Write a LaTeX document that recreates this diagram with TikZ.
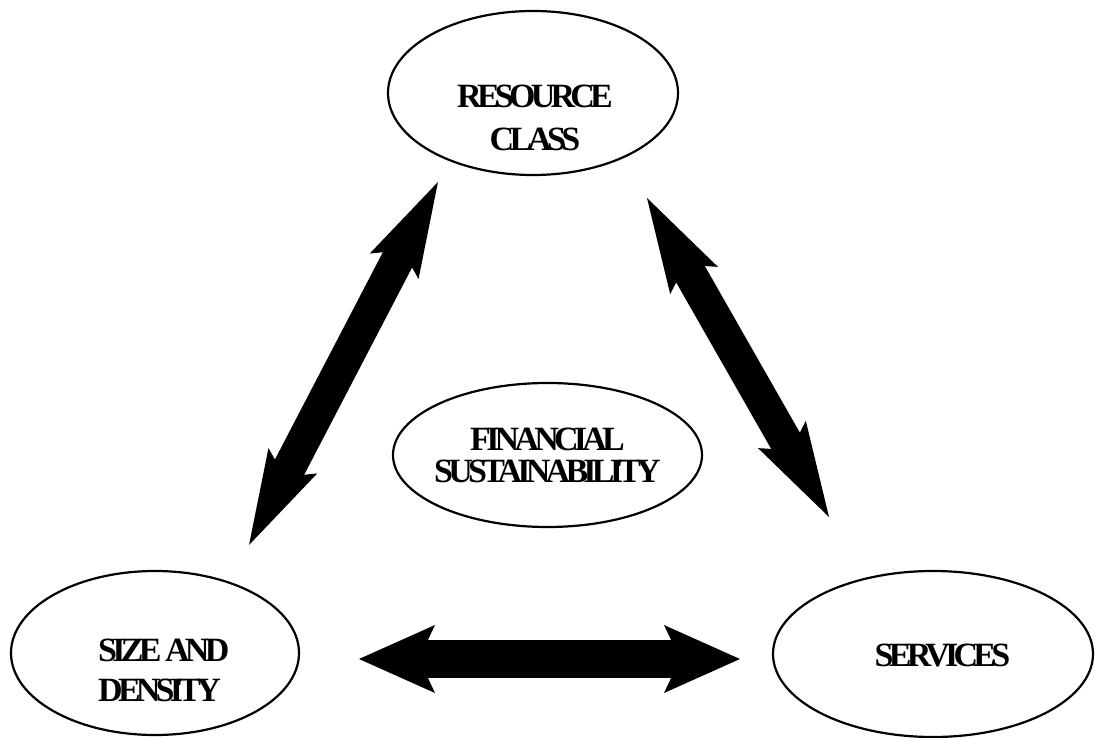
\documentclass[tikz,border=0pt]{standalone}
\usepackage{fontspec}
\newfontfamily\capsfont{Liberation Serif}[LetterSpace=-14]
\usetikzlibrary{arrows.meta,shapes.geometric}

\tikzset{
	blob/.style={draw, ellipse, line width=2.2pt, inner sep=0pt},
	txt/.style={font=\capsfont\bfseries\fontsize{34}{#1}\selectfont, align=center, inner sep=0pt},
	slant/.style={line width=33pt,
		{Stealth[length=95pt,width=55pt,inset=18pt,line width=0pt]}-{Stealth[length=95pt,width=55pt,inset=18pt,line width=0pt]}},
	flat/.style={line width=38pt,
		{Stealth[length=76pt,width=68pt,inset=16pt,line width=0pt]}-{Stealth[length=76pt,width=68pt,inset=16pt,line width=0pt]}}
}

\begin{document}
\begin{tikzpicture}[x=1pt,y=-1pt]
	\useasboundingbox (0,0) rectangle (1095,738);
	\node[blob, minimum width=290pt, minimum height=164pt] (res) at (533,93) {};
	\node[blob, minimum width=309pt, minimum height=144pt] (fin) at (547.5,455) {};
	\node[blob, minimum width=288pt, minimum height=164pt] (size) at (155,653) {};
	\node[blob, minimum width=320pt, minimum height=166pt] (serv) at (933,654) {};
	\node[txt=43pt] (res-t) at (535,118) {RESOURCE\\CLASS};
	\node[txt=32pt] (fin-t) at (fin) {FINANCIAL\\SUSTAINABILITY};
	\node[txt=40pt, align=left, anchor=west] (size-t) at (98,670) {SIZE AND\\DENSITY};
	\node[txt=34pt] (serv-t) at (942.5,655.5) {SERVICES};
	\coordinate (A) at (438,182);
	\coordinate (B) at (249,545);
	\coordinate (C) at (647,198);
	\coordinate (D) at (829,517);
	\coordinate (E) at (359,659);
	\coordinate (F) at (740,659);
	\draw[slant] (A) -- (B);
	\draw[slant] (C) -- (D);
	\draw[flat] (E) -- (F);
\end{tikzpicture}
\end{document}
